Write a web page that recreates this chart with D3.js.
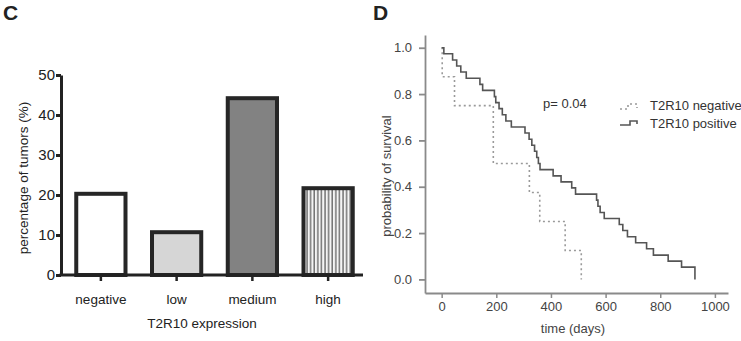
<!DOCTYPE html>
<html>
<head>
<meta charset="utf-8">
<script src="https://cdn.jsdelivr.net/npm/d3@7"></script>
<style>
  body { margin: 0; background: #fff; }
  svg { display: block; font-family: "Liberation Sans", Arial, sans-serif; }
</style>
</head>
<body>
<div id="chart"></div>
<script>
// panel C data
const categories = ["negative", "low", "medium", "high"];
const percentages = [20.3, 10.7, 44.2, 21.7];
const fills = ["#ffffff", "#d6d6d6", "#828282", "url(#stripes)"];
const percentTicks = [0, 10, 20, 30, 40, 50];

// panel D data (Kaplan-Meier steps: day of event, survival after event)
const negDays = [0, 2, 47, 189, 321, 359, 452, 511];
const negSurv = [1.0, 0.875, 0.75, 0.5, 0.375, 0.25, 0.125, 0.0];
const posDays = [0, 8, 40, 55, 70, 90, 140, 150, 193, 198, 210, 222, 235, 255,
                 305, 320, 330, 340, 348, 354, 360, 408, 437, 476, 490,
                 567, 572, 580, 595, 650, 663, 680, 710, 750, 775, 829, 878, 927];
const posSurv = [1.0, 0.974, 0.947, 0.921, 0.895, 0.868, 0.842, 0.816, 0.789, 0.763, 0.737, 0.711, 0.684, 0.658,
                 0.632, 0.605, 0.579, 0.553, 0.526, 0.5, 0.474, 0.447, 0.421, 0.395, 0.368,
                 0.342, 0.316, 0.289, 0.263, 0.237, 0.211, 0.184, 0.158, 0.132, 0.105, 0.079, 0.053, 0.0];
const survTicks = [0, 0.2, 0.4, 0.6, 0.8, 1.0];
const dayTicks = [0, 200, 400, 600, 800, 1000];

const width = 741, height = 341;

const svg = d3.select("#chart")
    .append("svg")
    .attr("width", width)
    .attr("height", height);

const defs = svg.append("defs");
const pat = defs.append("pattern")
    .attr("id", "stripes")
    .attr("patternUnits", "userSpaceOnUse")
    .attr("width", 3.6)
    .attr("height", 10);
pat.append("rect").attr("width", 3.6).attr("height", 10).attr("fill", "#f4f4f4");
pat.append("line")
    .attr("x1", 1).attr("x2", 1).attr("y1", 0).attr("y2", 10)
    .attr("stroke", "#333").attr("stroke-width", 1);

// ---------- panel C ----------
const gC = svg.append("g");

gC.append("text")
    .attr("x", 3).attr("y", 20)
    .attr("font-size", "21px").attr("font-weight", "bold")
    .attr("fill", "#222")
    .text("C");

const xC = d3.scaleBand()
    .domain(categories)
    .range([63, 366])
    .paddingInner(0.35)
    .paddingOuter(0.175);

const yC = d3.scaleLinear()
    .domain([0, 50])
    .range([275, 75]);

gC.selectAll(".bar")
    .data(categories)
    .enter()
    .append("rect")
    .attr("class", "bar")
    .attr("x", d => xC(d))
    .attr("y", (d, i) => yC(percentages[i]))
    .attr("width", xC.bandwidth())
    .attr("height", (d, i) => yC(0) - yC(percentages[i]))
    .attr("fill", (d, i) => fills[i])
    .attr("stroke", "#262626")
    .attr("stroke-width", 4);

const yAxisC = gC.append("g")
    .attr("transform", "translate(61,0)")
    .call(d3.axisLeft(yC).tickValues(percentTicks).tickSize(5).tickPadding(1).tickSizeOuter(0));
yAxisC.select(".domain").attr("stroke", "#222").attr("stroke-width", 3);
yAxisC.selectAll(".tick line").attr("stroke", "#222").attr("stroke-width", 3);
yAxisC.selectAll("text").attr("font-size", "15px").attr("fill", "#222").attr("font-family", "Liberation Sans, Arial");

const xAxisC = gC.append("g")
    .attr("transform", "translate(0,275)")
    .call(d3.axisBottom(xC).tickSize(6).tickPadding(13).tickSizeOuter(0));
xAxisC.select(".domain").attr("d", "M59.5,0H363").attr("stroke", "#222").attr("stroke-width", 3);
xAxisC.selectAll(".tick line").attr("stroke", "#222").attr("stroke-width", 2.5);
xAxisC.selectAll("text").attr("font-size", "13.5px").attr("fill", "#222").attr("font-family", "Liberation Sans, Arial");

gC.append("text")
    .attr("x", 202).attr("y", 328)
    .attr("text-anchor", "middle")
    .attr("font-size", "13.5px").attr("fill", "#222")
    .text("T2R10 expression");

gC.append("text")
    .attr("transform", "translate(28,178) rotate(-90)")
    .attr("text-anchor", "middle")
    .attr("font-size", "13.5px").attr("fill", "#222")
    .text("percentage of  tumors (%)");

// ---------- panel D ----------
const gD = svg.append("g");

gD.append("text")
    .attr("x", 373).attr("y", 20)
    .attr("font-size", "21px").attr("font-weight", "bold")
    .attr("fill", "#222")
    .text("D");

const xD = d3.scaleLinear()
    .domain([-61, 1048])
    .range([425, 728]);

const yD = d3.scaleLinear()
    .domain([-0.0587, 1.055])
    .range([293, 35]);

const yAxisD = gD.append("g")
    .attr("transform", "translate(425,0)")
    .call(d3.axisLeft(yD).tickValues(survTicks).tickFormat(d3.format(".1f")).tickSize(6).tickPadding(7).tickSizeOuter(0));
yAxisD.select(".domain").attr("stroke", "#8a8a8a").attr("stroke-width", 1.8);
yAxisD.selectAll(".tick line").attr("stroke", "#8a8a8a").attr("stroke-width", 1.8);
yAxisD.selectAll("text").attr("font-size", "13px").attr("fill", "#444").attr("font-family", "Liberation Sans, Arial");

const xAxisD = gD.append("g")
    .attr("transform", "translate(0,293)")
    .call(d3.axisBottom(xD).tickValues(dayTicks).tickFormat(d3.format("d")).tickSize(5).tickPadding(4).tickSizeOuter(0));
xAxisD.select(".domain").attr("stroke", "#8a8a8a").attr("stroke-width", 1.8);
xAxisD.selectAll(".tick line").attr("stroke", "#8a8a8a").attr("stroke-width", 1.5);
xAxisD.selectAll("text").attr("font-size", "13px").attr("fill", "#444").attr("font-family", "Liberation Sans, Arial");

const stepLine = d3.line()
    .x(d => xD(d[0]))
    .y(d => yD(d[1]))
    .curve(d3.curveStepAfter);

gD.append("path")
    .datum(negDays.map((d, i) => [d, negSurv[i]]))
    .attr("d", stepLine)
    .attr("fill", "none")
    .attr("stroke", "#9a9a9a")
    .attr("stroke-width", 1.6)
    .attr("stroke-dasharray", "2,3");

gD.append("path")
    .datum(posDays.map((d, i) => [d, posSurv[i]]))
    .attr("d", stepLine)
    .attr("fill", "none")
    .attr("stroke", "#555")
    .attr("stroke-width", 1.6);

gD.append("text")
    .attr("x", 543).attr("y", 107.5)
    .attr("font-size", "13px").attr("fill", "#333")
    .text("p= 0.04");

// legend
gD.append("path")
    .attr("d", "M620,109H628V104H637V108")
    .attr("fill", "none")
    .attr("stroke", "#9a9a9a")
    .attr("stroke-width", 1.6)
    .attr("stroke-dasharray", "2,3");
gD.append("path")
    .attr("d", "M620,125H630V121H637V124")
    .attr("fill", "none")
    .attr("stroke", "#555")
    .attr("stroke-width", 1.6);

gD.append("text")
    .attr("x", 650).attr("y", 110)
    .attr("font-size", "13px").attr("fill", "#333")
    .text("T2R10 negative");
gD.append("text")
    .attr("x", 650).attr("y", 128)
    .attr("font-size", "13px").attr("fill", "#333")
    .text("T2R10 positive");

gD.append("text")
    .attr("x", 573).attr("y", 333)
    .attr("text-anchor", "middle")
    .attr("font-size", "13px").attr("fill", "#444")
    .text("time (days)");

gD.append("text")
    .attr("transform", "translate(391,176) rotate(-90)")
    .attr("text-anchor", "middle")
    .attr("font-size", "13px").attr("fill", "#444")
    .text("probability of survival");
</script>
</body>
</html>
